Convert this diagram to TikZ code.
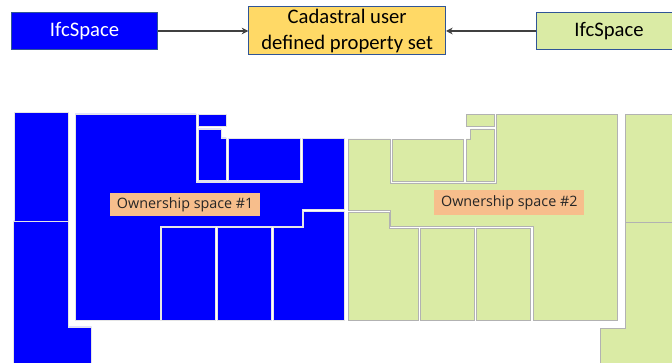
\documentclass[tikz,border=0pt]{standalone}
\usepackage{fontspec}
\setmainfont{Carlito}
\newfontfamily\labelfont{Open Sans}
\usetikzlibrary{arrows.meta}
\definecolor{ownblue}{HTML}{0000FF}
\definecolor{owngreen}{HTML}{DAEBA5}
\definecolor{ownyellow}{HTML}{FFD966}
\definecolor{ownorange}{HTML}{F7BE8C}
\definecolor{edgeblue}{HTML}{2F5597}
\tikzset{
  headbox/.style={draw=edgeblue,line width=0.7pt,inner sep=0pt,align=center,font=\fontsize{15.5}{19.5}\selectfont},
  ownlabel/.style={fill=ownorange,inner sep=0pt,font=\labelfont\fontsize{10.75}{12}\selectfont,text=black!85},
  conn/.style={draw=black!75,line width=0.8pt,-{Stealth[length=5pt,width=5pt]}},
  bluespace/.style={fill=ownblue,draw=black!10,line width=0.5pt},
  greenspace/.style={fill=owngreen,draw=black!30,line width=0.55pt},
}
\begin{document}
\begin{tikzpicture}[x=0.75pt,y=-0.75pt]
\useasboundingbox (0,0) rectangle (672,363);
% blue spaces
\draw[bluespace] (14,112.5) rectangle (68,221);
\draw[bluespace] (13.5,221) -- (68,221) -- (68,327) -- (91.5,327) -- (91.5,364) -- (13.5,364) -- cycle;
\draw[bluespace] (75,114) -- (196,114) -- (196,182) -- (302,182) -- (302,138.5) -- (344,138.5) -- (344,209.5) -- (302,209.5) -- (302,226) -- (160,226) -- (160,320) -- (75,320) -- cycle;
\draw[bluespace] (198,114) rectangle (226.5,126);
\draw[bluespace] (198,129) -- (221,129) -- (221,138) -- (226,138) -- (226,180.5) -- (198,180.5) -- cycle;
\draw[bluespace] (228.5,138.5) rectangle (300.5,180.5);
\draw[bluespace] (161,227.5) rectangle (215.5,320);
\draw[bluespace] (217.5,227.5) rectangle (271.5,320);
\draw[bluespace] (273.5,227.5) -- (303.5,227.5) -- (303.5,211.5) -- (344,211.5) -- (344,320) -- (273.5,320) -- cycle;
% green spaces
\draw[greenspace] (348,139) -- (390.3,139) -- (390.3,183) -- (496.5,183) -- (496.5,114.7) -- (617.5,114.7) -- (617.5,320.5) -- (533,320.5) -- (533,226.7) -- (390.7,226.7) -- (390.7,210) -- (348,210) -- cycle;
\draw[greenspace] (392.3,139.3) rectangle (463.7,181.3);
\draw[greenspace] (466,139) -- (470.5,139) -- (470.5,129) -- (494,129) -- (494,181.3) -- (466,181.3) -- cycle;
\draw[greenspace] (466,114.7) rectangle (494,126.3);
\draw[greenspace] (348,212.3) -- (389,212.3) -- (389,228.5) -- (418.7,228.5) -- (418.7,320.3) -- (348,320.3) -- cycle;
\draw[greenspace] (420.3,228.3) rectangle (474.7,320.3);
\draw[greenspace] (476.3,228.3) rectangle (530.7,320.3);
\draw[greenspace] (625,114) rectangle (673,222.3);
\draw[greenspace] (625,222.3) -- (673,222.3) -- (673,364) -- (600.7,364) -- (600.7,328.3) -- (625,328.3) -- cycle;
% ownership labels
\node[ownlabel,minimum width=112.5pt,minimum height=17pt] (own1) at (185.2,204.3) {\raisebox{-1pt}{Ownership space \#1}};
\node[ownlabel,minimum width=112.5pt,minimum height=18.5pt] (own2) at (509.3,202.3) {\raisebox{-1pt}{Ownership space \#2}};
% header boxes
\node[headbox,fill=ownblue,text=white,minimum width=110pt,minimum height=27.5pt] (left) at (84.5,31) {IfcSpace};
\node[headbox,fill=ownyellow,text=black,minimum width=147.5pt,minimum height=36.5pt] (mid) at (347.2,30.5) {\raisebox{-3pt}{Cadastral user}\\\raisebox{-3pt}{defined property set}};
\node[headbox,fill=owngreen,text=black,minimum width=109.5pt,minimum height=27.5pt] (right) at (609,31) {IfcSpace};
\coordinate (midl) at (mid.west |- left.east);
\coordinate (midr) at (mid.east |- right.west);
\draw[conn] (left.east) -- (midl);
\draw[conn] (right.west) -- (midr);
\end{tikzpicture}
\end{document}
